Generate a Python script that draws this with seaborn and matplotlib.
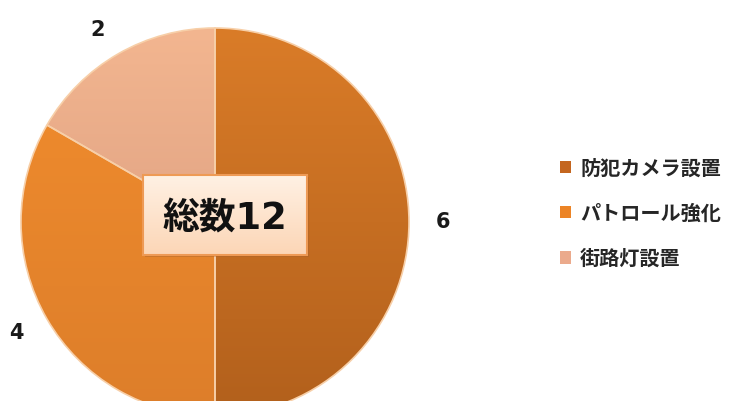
import numpy as np
import matplotlib
matplotlib.use("Agg")
import matplotlib.pyplot as plt
from matplotlib.colors import LinearSegmentedColormap
from matplotlib.patches import Rectangle, Patch
import seaborn as sns

categories = ["防犯カメラ設置", "パトロール強化", "街路灯設置"]
values = [6, 4, 2]
total_label = "総数12"

top_colors = ["#DA7C28", "#F28D2E", "#F3B690"]
bottom_colors = ["#B2601C", "#DD7E2A", "#D3957A"]
legend_colors = ["#C4661F", "#EC8426", "#EBAA8C"]

sns.set_theme(style="white")
plt.rcParams["font.family"] = ["Noto Sans CJK JP", "DejaVu Sans"]

fig = plt.figure(figsize=(7.42, 4.01), dpi=100)
cx, cy, r = 215, 222, 194
W, H = 742, 401
ax = fig.add_axes([(cx - r) / W, (H - cy - r) / H, 2 * r / W, 2 * r / H])

wedges, texts = ax.pie(values, labels=[str(v) for v in values], colors=legend_colors,
                       startangle=90, counterclock=False, radius=1,
                       labeldistance=1.14,
                       wedgeprops=dict(edgecolor="#F7CFA8", linewidth=1.2),
                       textprops=dict(fontsize=15, fontweight="bold", color="#1a1a1a",
                                      family=["DejaVu Sans"]))

# gradient fills clipped to each wedge
yy = np.linspace(1, 0, 256).reshape(-1, 1)
for w, tc, bc in zip(wedges, top_colors, bottom_colors):
    cmap = LinearSegmentedColormap.from_list("g", [bc, tc])
    im = ax.imshow(yy, cmap=cmap, extent=[-1, 1, -1, 1], aspect="auto", zorder=1,
                   origin="upper", vmin=0, vmax=1)
    im.set_clip_path(w)
for w in wedges:
    w.set_zorder(2)
    w.set_facecolor("none")

# center label box
bx0, bx1 = (143 - cx) / r, (307 - cx) / r
by0, by1 = (cy - 255) / r, (cy - 175) / r
shadow = Rectangle((bx0 + 0.012, by0 - 0.012), bx1 - bx0, by1 - by0,
                   facecolor="#9a5a2a", alpha=0.35, edgecolor="none", zorder=3)
ax.add_patch(shadow)
grad = np.linspace(0, 1, 128).reshape(-1, 1)
bcmap = LinearSegmentedColormap.from_list("b", ["#FFF1E4", "#FCD6B6"])
box = Rectangle((bx0, by0), bx1 - bx0, by1 - by0, facecolor="none",
                edgecolor="#EE9A55", linewidth=1.5, zorder=5)
ax.add_patch(box)
bim = ax.imshow(grad, cmap=bcmap, extent=[bx0, bx1, by0, by1], aspect="auto",
                zorder=4, origin="upper")
bim.set_clip_path(box)
ax.text((bx0 + bx1) / 2, (by0 + by1) / 2 - 0.02, total_label, ha="center", va="center",
        fontsize=26.5, fontweight="bold", color="#111111", zorder=6,
        family=["DejaVu Sans", "Noto Sans CJK JP"])

ax.set_xlim(-1, 1)
ax.set_ylim(-1, 1)
ax.set_aspect("equal")
ax.axis("off")

handles = [Patch(facecolor=c, edgecolor="none") for c in legend_colors]
leg = fig.legend(handles, categories, loc="center left",
                 bbox_to_anchor=(560 / W, 1 - 213 / H), frameon=False,
                 borderpad=0, borderaxespad=0, handlelength=0.55, handleheight=0.55,
                 handletextpad=0.45, labelspacing=1.2,
                 prop=dict(size=14.5, weight="bold"))
for t in leg.get_texts():
    t.set_color("#262626")

fig.savefig("out.png", dpi=100)
